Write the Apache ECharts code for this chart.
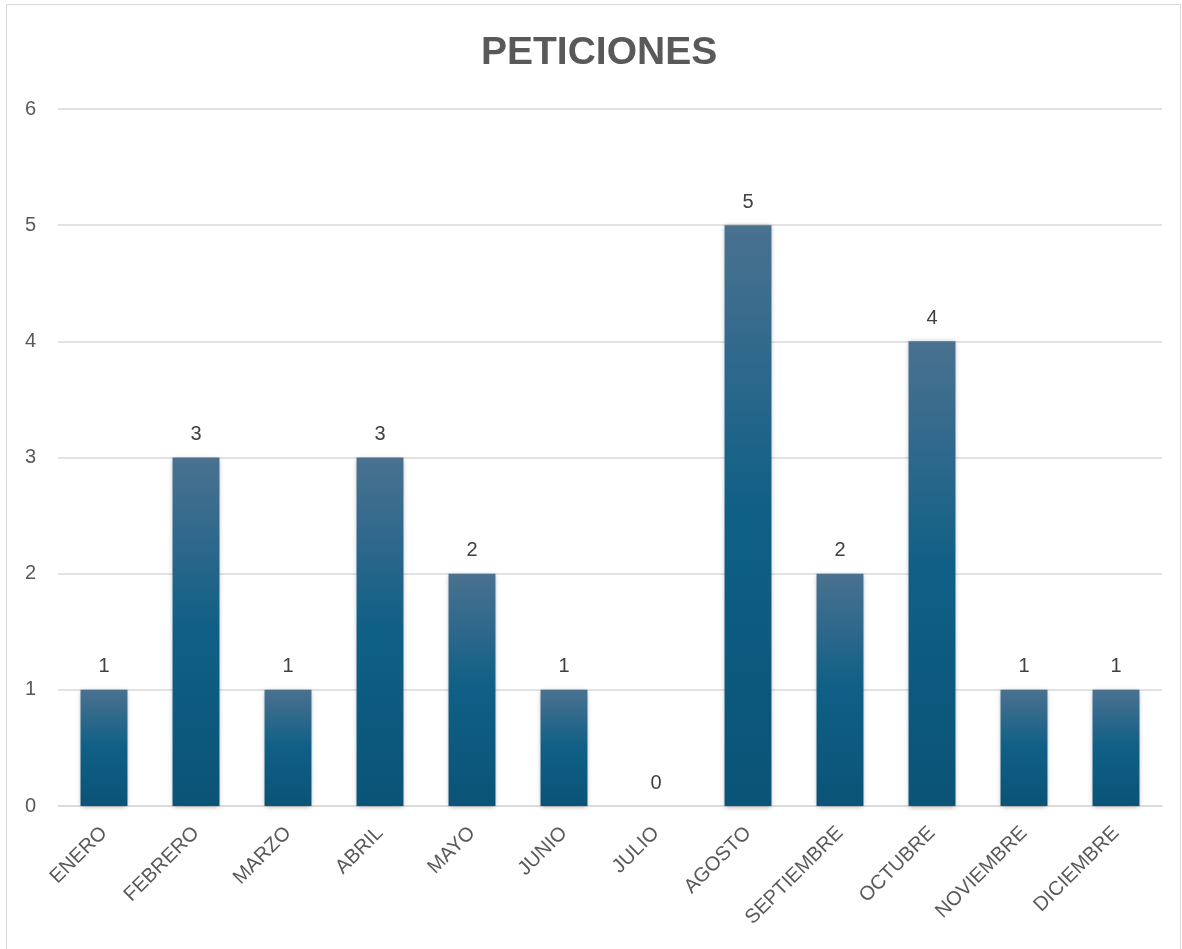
<!DOCTYPE html>
<html><head><meta charset="utf-8">
<script src="https://cdn.jsdelivr.net/npm/echarts@6/dist/echarts.min.js"></script>
<style>html,body{margin:0;padding:0;background:#fff}#c{width:1182px;height:949px}</style>
</head><body><div id="c"></div>
<script>
const categories = ['ENERO','FEBRERO','MARZO','ABRIL','MAYO','JUNIO','JULIO','AGOSTO','SEPTIEMBRE','OCTUBRE','NOVIEMBRE','DICIEMBRE'];
const values = [1,3,1,3,2,1,0,5,2,4,1,1];
const yTicks = [0,1,2,3,4,5,6];

const chart = echarts.init(document.getElementById('c'));
chart.setOption({
  backgroundColor: '#fff',
  graphic: [{type:'rect', shape:{x:6.5,y:4.5,width:1174,height:960}, style:{fill:'none', stroke:'#d9d9d9', lineWidth:1}, silent:true}],
  title: {text:'PETICIONES', left:476, top:29, textStyle:{fontFamily:'Liberation Sans, Arial', fontWeight:'bold', fontSize:39, color:'#595959'}},
  grid: {left:58, right:20, top:109, bottom:143, containLabel:false},
  xAxis: {type:'category', data:categories,
    axisLine:{lineStyle:{color:'#d9d9d9', width:1.5}}, axisTick:{show:false},
    axisLabel:{rotate:45, interval:0, color:'#595959', fontSize:20, fontFamily:'Liberation Sans, Arial', margin:24}},
  yAxis: {type:'value', min:yTicks[0], max:yTicks[yTicks.length-1], interval:1,
    axisLine:{show:false}, axisTick:{show:false},
    splitLine:{lineStyle:{color:'#d9d9d9', width:1.5}},
    axisLabel:{color:'#595959', fontSize:20, fontFamily:'Liberation Sans, Arial', margin:22}},
  series:[{type:'bar', data:values, barWidth:'51%',
    itemStyle:{color:new echarts.graphic.LinearGradient(0,0,0,1,[
      {offset:0,color:'#4a7190'},{offset:0.5,color:'#0f5f86'},{offset:1,color:'#0b5377'}]),
      shadowBlur:5, shadowColor:'rgba(0,0,0,0.35)', shadowOffsetX:0, shadowOffsetY:1},
    label:{show:true, position:'top', distance:13, color:'#404040', fontSize:20, fontFamily:'Liberation Sans, Arial'}
  }]
});
</script></body></html>
